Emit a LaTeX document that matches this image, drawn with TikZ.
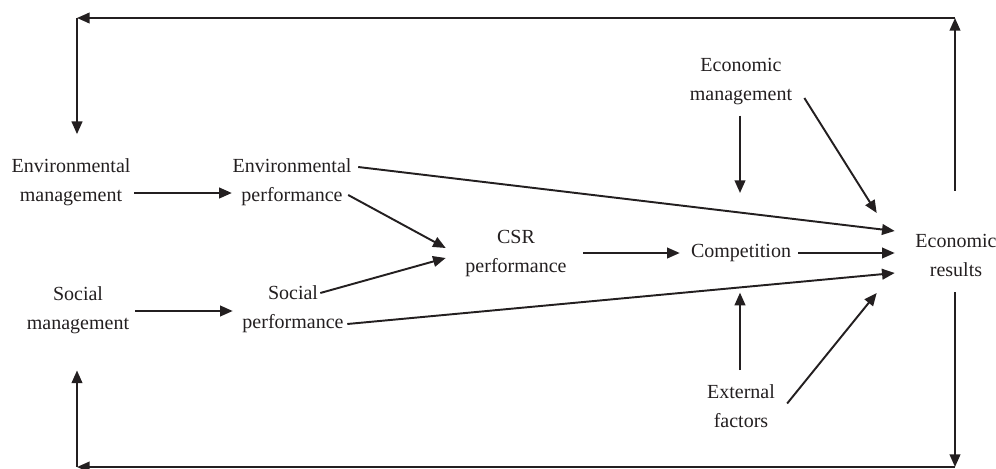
\documentclass[tikz,border=0pt]{standalone}
\usepackage{fontspec}
\setmainfont{Liberation Serif}
\usetikzlibrary{arrows.meta}
\definecolor{ink}{RGB}{35,31,32}
\begin{document}
\begin{tikzpicture}[x=0.75pt,y=-0.75pt,
  lbl/.style={font=\fontsize{15}{21.75}\selectfont, align=center, inner sep=0pt, text=ink},
  arr/.style={draw=ink, line width=1.45pt, -{Triangle[length=9.5pt,width=8pt]}}]
\path[use as bounding box] (0,0) rectangle (996,468);

\node[lbl] (envmgmt)  at (71,182)  {Environmental\\management};
\node[lbl] (envperf)  at (292,182) {Environmental\\performance};
\node[lbl] (socmgmt)  at (78,310)  {Social\\management};
\node[lbl] (socperf)  at (293,309) {Social\\performance};
\node[lbl] (csr)      at (516,254) {CSR\\performance};
\node[lbl] (comp)     at (741,253) {Competition};
\node[lbl] (econres)  at (956,255) {Economic\\results};
\node[lbl] (econmgmt) at (741,82)  {Economic\\management};
\node[lbl] (ext)      at (741,406) {External\\factors};

\coordinate (tl) at (77,18);
\coordinate (tr) at (955,18);
\coordinate (bl) at (77,467);
\coordinate (br) at (955,467);

% management -> performance
\draw[arr] ([shift={(3.5,11)}]envmgmt.east) -- ([shift={(-0.5,11)}]envperf.west);
\draw[arr] ([shift={(6,1)}]socmgmt.east) -- ([shift={(-9.5,2)}]socperf.west);

% performance -> CSR / economic results
\draw[arr] ([shift={(6.5,-15)}]envperf.east) -- ([shift={(-20.5,-24)}]econres.west);
\draw[arr] ([shift={(-3.5,13)}]envperf.east) -- ([shift={(-19.5,-6)}]csr.west);
\draw[arr] ([shift={(-23.5,-16)}]socperf.east) -- ([shift={(-19.5,4)}]csr.west);
\draw[arr] ([shift={(3.5,15)}]socperf.east) -- ([shift={(-20.5,18)}]econres.west);

% CSR -> competition -> economic results
\draw[arr] ([shift={(16.5,-1)}]csr.east) -- ([shift={(-11,0)}]comp.west);
\draw[arr] ([shift={(7,0)}]comp.east) -- ([shift={(-20.5,-2)}]econres.west);

% economic management
\draw[arr] ([shift={(-1,10)}]econmgmt.south) -- ([shift={(-1,-51)}]comp.north);
\draw[arr] ([shift={(12,16)}]econmgmt.east) -- ([shift={(-38.5,-42)}]econres.west);

% external factors
\draw[arr] ([shift={(-1,-14)}]ext.north) -- ([shift={(-1,30.6)}]comp.south);
\draw[arr] ([shift={(12,-2.5)}]ext.east) -- ([shift={(-38.5,38)}]econres.west);

% feedback loops
\draw[arr] ([shift={(-1,-43)}]econres.north) -- (tr);
\draw[arr] (tr) -- (tl);
\draw[arr] (tl) -- ([shift={(6,-24)}]envmgmt.north);
\draw[arr] ([shift={(-1,16)}]econres.south) -- (br);
\draw[arr] (br) -- (bl);
\draw[arr] (bl) -- ([shift={(-1,36.6)}]socmgmt.south);
\end{tikzpicture}
\end{document}
